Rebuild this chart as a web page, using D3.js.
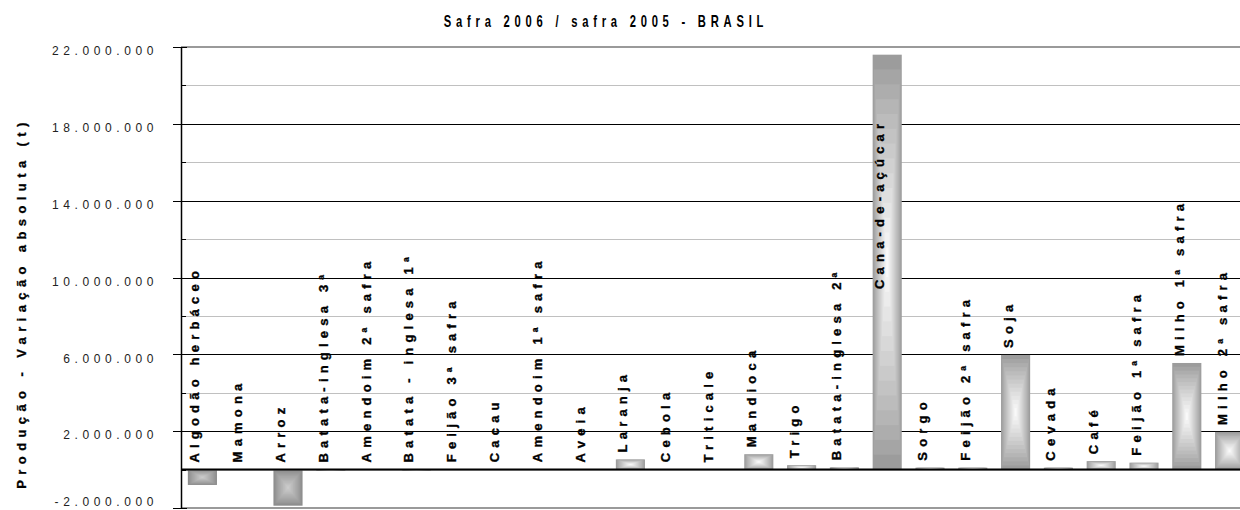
<!DOCTYPE html>
<html>
<head>
<meta charset="utf-8">
<script src="https://cdn.jsdelivr.net/npm/d3@7"></script>
<style>
  html, body { margin: 0; padding: 0; background: #fff; }
  svg { display: block; }
</style>
</head>
<body>
<svg id="chart" width="1240" height="510"></svg>
<script>
// ---- data ----
const categories = [
  "Algodão herbáceo", "Mamona", "Arroz", "Batata-inglesa 3ª", "Amendoim 2ª safra",
  "Batata - inglesa 1ª", "Feijão 3ª safra", "Cacau", "Amendoim 1ª safra", "Aveia",
  "Laranja", "Cebola", "Triticale", "Mandioca", "Trigo", "Batata-inglesa 2ª",
  "Cana-de-açúcar", "Sorgo", "Feijão 2ª safra", "Soja", "Cevada", "Café",
  "Feijão 1ª safra", "Milho 1ª safra", "Milho 2ª safra"
];
const variation = [
  -800000, 10000, -1880000, -60000, 10000,
  -50000, 20000, 15000, 20000, 10000,
  530000, 20000, 10000, 800000, 230000, 120000,
  21600000, 100000, 100000, 5970000, 100000, 440000,
  360000, 5550000, 1960000
];
const majorTicks = [-2000000, 2000000, 6000000, 10000000, 14000000, 18000000, 22000000];
const minorTicks = [0, 4000000, 8000000, 12000000, 16000000, 20000000];
const titleText = "Safra 2006 / safra 2005 - BRASIL";
const yTitle = "Produção - Variação absoluta (t)";

(function () {
// ---- layout ----
const svg = d3.select("#chart");
const pL = 181, pR = 1251, pT = 47, pB = 508;

const x = d3.scaleBand().domain(categories).range([pL, pR])
  .paddingInner(0.32).paddingOuter(0.16);
const y = d3.scaleLinear().domain([-2000000, 22000000]).range([pB, pT]);

const loc = d3.formatLocale({decimal: ",", thousands: ".", grouping: [3], currency: ["R$", ""], minus: "-"});
const fmt = loc.format(",d");

svg.append("defs").append("clipPath").attr("id", "plotclip")
  .append("rect").attr("x", pL).attr("y", pT - 2).attr("width", pR - pL).attr("height", pB - pT + 4);

const plot = svg.append("g").attr("clip-path", "url(#plotclip)");

// minor gridlines (gray)
plot.selectAll("line.minor").data(minorTicks).join("line")
  .attr("x1", pL).attr("x2", pR)
  .attr("y1", d => Math.round(y(d)) + 0.5).attr("y2", d => Math.round(y(d)) + 0.5)
  .attr("stroke", "#c0c0c0").attr("stroke-width", 1);

// major gridlines (black)
plot.selectAll("line.major").data(majorTicks).join("line")
  .attr("x1", pL).attr("x2", pR)
  .attr("y1", d => Math.round(y(d)) + 0.5).attr("y2", d => Math.round(y(d)) + 0.5)
  .attr("stroke", "#000").attr("stroke-width", 1);

// plot border top/bottom (gray)
plot.append("line").attr("x1", pL).attr("x2", pR).attr("y1", pT).attr("y2", pT)
  .attr("stroke", "#9a9a9a").attr("stroke-width", 2);
plot.append("line").attr("x1", pL).attr("x2", pR).attr("y1", pB).attr("y2", pB)
  .attr("stroke", "#9a9a9a").attr("stroke-width", 2);

// bars: concentric rectangle gradient
const steps = 14;
const data = categories.map((c, i) => ({cat: c, v: variation[i]}));
const barG = plot.selectAll("g.bar").data(data).join("g").attr("class", "bar");
barG.each(function(d) {
  const g = d3.select(this);
  const x0 = x(d.cat), w = x.bandwidth();
  const yTop = Math.min(y(0), y(d.v)), h = Math.abs(y(d.v) - y(0));
  const outer = d.v < 0 ? "#8c8c8c" : "#9c9c9c";
  const inner = d.v < 0 ? "#cfcfcf" : "#ffffff";
  const col = d3.interpolateRgb(outer, inner);
  for (let k = 0; k < steps; k++) {
    const t = k / steps;
    const ix = t * w / 2, iy = t * h / 2;
    g.append("rect")
      .attr("x", x0 + ix).attr("y", yTop + iy)
      .attr("width", Math.max(0, w - 2 * ix)).attr("height", Math.max(0, h - 2 * iy))
      .attr("fill", col(Math.pow(t, 0.9)));
  }
});

// zero line
plot.append("line").attr("x1", pL).attr("x2", pR)
  .attr("y1", y(0)).attr("y2", y(0))
  .attr("stroke", "#000").attr("stroke-width", 2);

// category labels (rotated)
const labels = svg.append("g").selectAll("text").data(data).join("text")
  .attr("font-family", "'Liberation Sans', Arial, sans-serif")
  .attr("font-weight", "bold")
  .attr("font-size", 13)
  .attr("letter-spacing", 5.2)
  .attr("fill", "#000")
  .attr("stroke", "#000").attr("stroke-width", 0.35)
  .text(d => d.cat);
labels.each(function(d) {
  const el = d3.select(this);
  const len = this.getComputedTextLength();
  const bx = x(d.cat) + 11.5;
  let by = Math.min(y(0), y(d.v)) - 7;
  if (by - len < pT) {
    by = y(d.v) + 64 + len;
  }
  el.attr("transform", `translate(${bx},${by}) rotate(-90)`).attr("text-anchor", "start");
});

// y axis line
svg.append("line").attr("x1", pL + 0.5).attr("x2", pL + 0.5)
  .attr("y1", pT).attr("y2", pB).attr("stroke", "#000").attr("stroke-width", 1.5);

// ticks
svg.selectAll("line.mt").data(majorTicks).join("line")
  .attr("x1", pL - 8).attr("x2", pL + 6)
  .attr("y1", d => Math.round(y(d)) + 0.5).attr("y2", d => Math.round(y(d)) + 0.5)
  .attr("stroke", "#000");
svg.selectAll("line.nt").data(minorTicks).join("line")
  .attr("x1", pL).attr("x2", pL + 5)
  .attr("y1", d => Math.round(y(d)) + 0.5).attr("y2", d => Math.round(y(d)) + 0.5)
  .attr("stroke", "#000");

// tick labels via axis
const axis = d3.axisLeft(y).tickValues(majorTicks).tickFormat(fmt).tickSize(0).tickPadding(0);
const ag = svg.append("g").attr("transform", "translate(158,0)").call(axis);
ag.select(".domain").remove();
ag.selectAll("text")
  .attr("font-family", "'Liberation Sans', Arial, sans-serif")
  .attr("font-size", 12)
  .attr("letter-spacing", 4.6)
  .attr("dy", "0.4em")
  .attr("y", d => Math.min(3, pB - y(d) - 7))
  .attr("fill", "#222");

// title (condensed)
svg.append("text").attr("transform", "translate(606,27) scale(0.68,1)")
  .attr("text-anchor", "middle")
  .attr("font-family", "'Liberation Sans', Arial, sans-serif")
  .attr("font-weight", "bold").attr("font-size", 16.5).attr("letter-spacing", 7)
  .attr("fill", "#000").text(titleText);

// y title
svg.append("text").attr("transform", "translate(26,303) rotate(-90)")
  .attr("text-anchor", "middle")
  .attr("font-family", "'Liberation Sans', Arial, sans-serif")
  .attr("font-weight", "bold").attr("font-size", 13).attr("letter-spacing", 5.4)
  .attr("fill", "#000").attr("stroke", "#000").attr("stroke-width", 0.3).text(yTitle);
})();
</script>
</body>
</html>
